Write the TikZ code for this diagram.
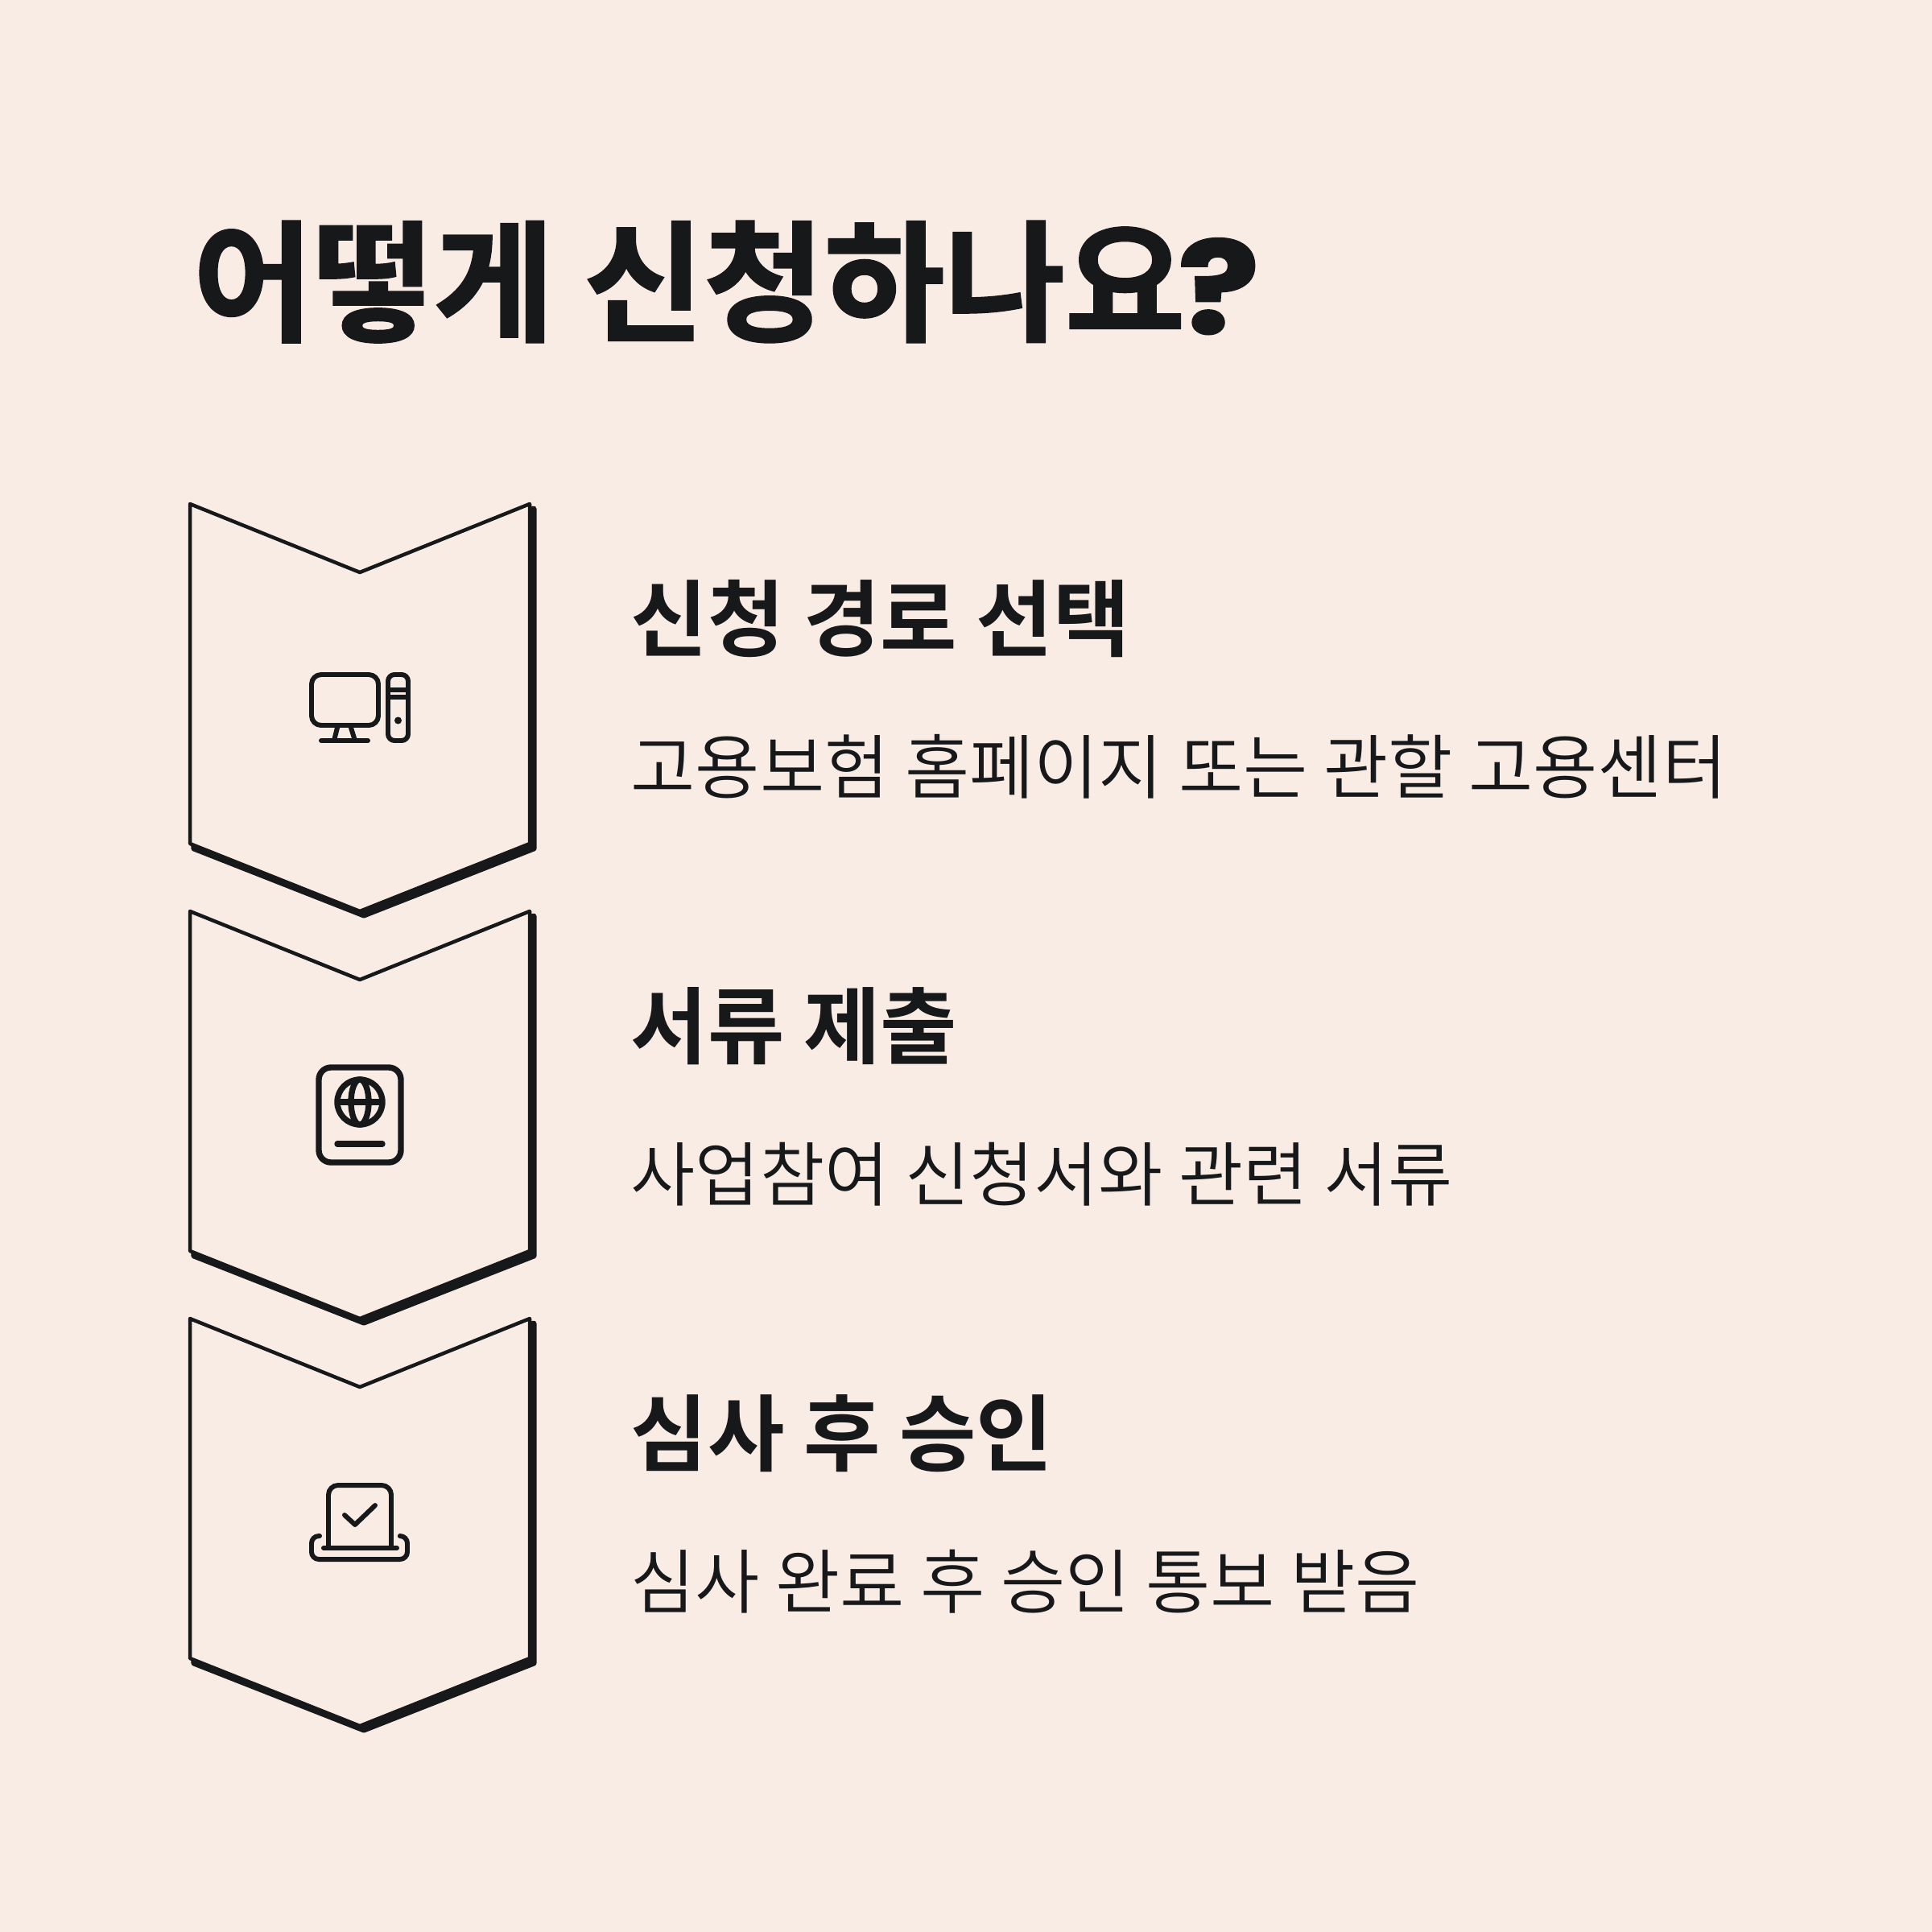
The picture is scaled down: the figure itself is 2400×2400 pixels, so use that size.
\documentclass[tikz,border=0pt]{standalone}
\usepackage{fontspec}
\usepackage{xcolor}
\usepackage{tikz}
\newfontfamily\boldkr{Noto Sans CJK KR Bold}
\newfontfamily\titlekr[FakeBold=1.5]{Noto Sans CJK KR Bold}
\newfontfamily\lightkr{Noto Sans CJK KR DemiLight}
\newfontfamily\markfont[FakeBold=1.8]{Poppins}
\definecolor{pagebg}{HTML}{F9ECE4}
\definecolor{inkdark}{HTML}{16181A}

\begin{document}
\begin{tikzpicture}[
  x=0.01cm,
  y=-0.01cm,
  titletext/.style={
    font=\titlekr\fontsize{46.2}{46.2}\selectfont,
    text=inkdark,
    anchor=base west,
    inner sep=0pt
  },
  headtext/.style={
    font=\boldkr\fontsize{29.5}{29.5}\selectfont,
    text=inkdark,
    anchor=base west,
    inner sep=0pt
  },
  bodytext/.style={
    font=\lightkr\fontsize{24.8}{24.8}\selectfont,
    text=inkdark,
    anchor=base west,
    inner sep=0pt
  },
  chevshadow/.style={
    draw=inkdark,
    fill=inkdark,
    line width=2pt,
    line join=round
  },
  chevfront/.style={
    draw=inkdark,
    fill=pagebg,
    line width=1.28pt,
    line join=round
  },
  iconline/.style={
    draw=inkdark,
    line width=1.7pt,
    line cap=round,
    line join=round
  },
  iconthick/.style={
    draw=inkdark,
    line width=2.1pt,
    line cap=round,
    line join=round
  }
]

% Background
\fill[pagebg] (0,0) rectangle (2400,2400);

% Title
\node[titletext] (title) at (239,411) {어떻게 신청하나요{\markfont\bfseries\fontsize{47.5}{47.5}\selectfont\hspace{-2.5pt}\raisebox{-0.8pt}{\scalebox{1.12}[0.95]{?}}}};

% ---------------- Step 1 ----------------
\draw[chevshadow] (241,632) -- (452,717) -- (663,632) -- (663,1054) -- (452,1137) -- (241,1054) -- cycle;
\draw[chevfront] (236,626) -- (447,711) -- (658,626) -- (658,1048) -- (447,1132) -- (236,1048) -- cycle;

% Computer icon
\draw[iconline, rounded corners=3.4pt] (387,838) rectangle (470,901);
\draw[iconline] (419,904) -- (415,920);
\draw[iconline] (436,904) -- (441,920);
\draw[iconline] (399,920) -- (457,920);
\draw[iconline, rounded corners=2.3pt] (482,838) rectangle (507,920);
\draw[iconline, line cap=butt] (482,857) -- (507,857);
\draw[iconline, line cap=butt] (482,866) -- (507,866);
\fill[inkdark] (494.5,895) circle (4.5);

\node[headtext] (headone) at (783,807) {신청 경로 선택};
\node[bodytext] (bodyone) at (783,985) {고용보험 홈페이지 또는 관할 고용센터};

% ---------------- Step 2 ----------------
\draw[chevshadow] (241,1138) -- (452,1223) -- (663,1138) -- (663,1560) -- (452,1643) -- (241,1560) -- cycle;
\draw[chevfront] (236,1132) -- (447,1217) -- (658,1132) -- (658,1554) -- (447,1638) -- (236,1554) -- cycle;

% Passport icon
\draw[iconthick, rounded corners=4.3pt] (396,1326) rectangle (498,1444);
\draw[iconthick] (447,1369) circle (28);
\draw[iconthick] (447,1369) ellipse (11 and 28);
\draw[iconthick, line cap=butt] (419,1369) -- (475,1369);
\draw[iconthick] (419,1421) -- (475,1421);

\node[headtext] (headtwo) at (783,1313) {서류 제출};
\node[bodytext] (bodytwo) at (783,1491) {사업참여 신청서와 관련 서류};

% ---------------- Step 3 ----------------
\draw[chevshadow] (241,1644) -- (452,1729) -- (663,1644) -- (663,2066) -- (452,2149) -- (241,2066) -- cycle;
\draw[chevfront] (236,1638) -- (447,1723) -- (658,1638) -- (658,2060) -- (447,2144) -- (236,2060) -- cycle;

% Approval icon
\draw[iconline, rounded corners=3.4pt] (408,1922) -- (408,1845) -- (486,1845) -- (486,1922);
\draw[iconline] (402,1923) -- (493,1923);
\draw[iconline] (428,1882) -- (441,1894) -- (466,1870);
\draw[iconline, rounded corners=2.6pt] (397,1908) -- (387,1908) -- (387,1937) -- (506,1937) -- (506,1908) -- (497,1908);

\node[headtext] (headthree) at (783,1819) {심사 후 승인};
\node[bodytext] (bodythree) at (783,1997) {심사 완료 후 승인 통보 받음};

\end{tikzpicture}
\end{document}
